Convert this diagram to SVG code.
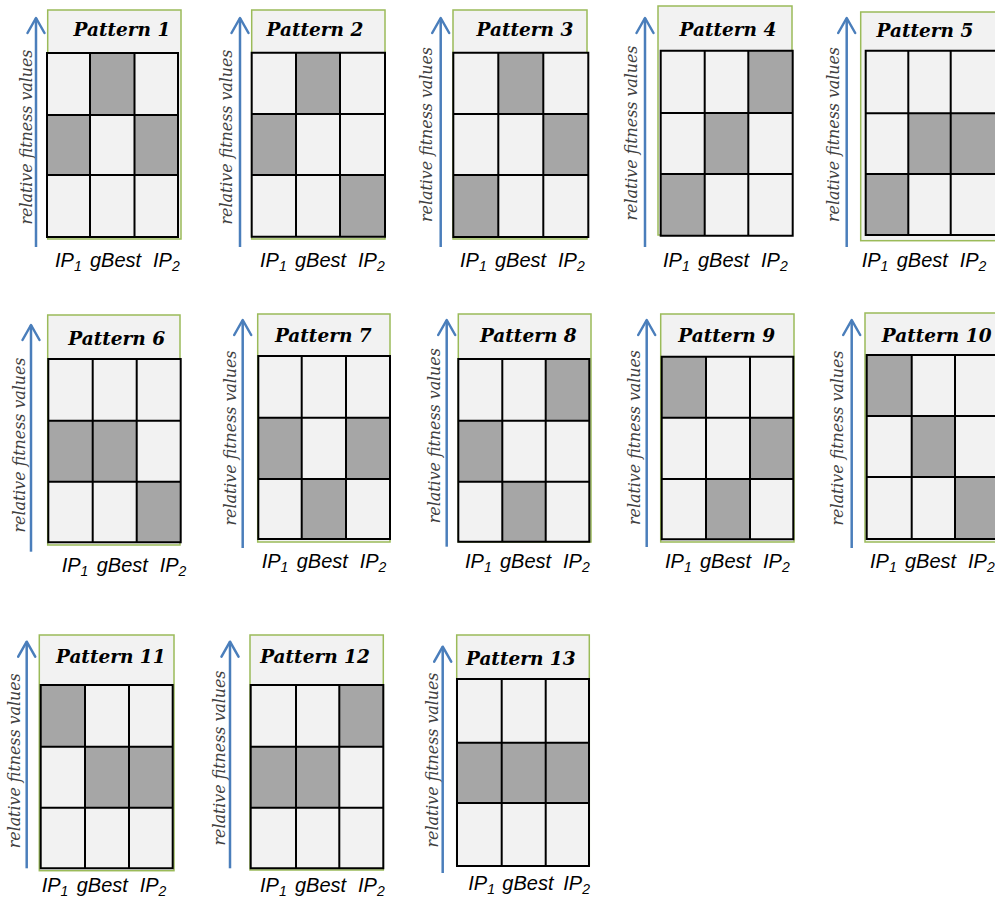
<svg xmlns="http://www.w3.org/2000/svg" width="995" height="900" viewBox="0 0 995 900">
<defs>
<style>
.bg{fill:#ffffff}
.frame{fill:#f2f2f2;stroke:#9bbb59;stroke-width:1.5}
.l{fill:#f2f2f2}
.d{fill:#a6a6a6}
.g{fill:none;stroke:#000;stroke-width:2}
.ax{stroke:#4a7ebb;stroke-width:2.5;fill:none;marker-end:url(#ah)}
.ttl{font-family:"DejaVu Serif",serif;font-weight:bold;font-style:italic;font-size:18.5px;text-anchor:middle;fill:#000}
.rot{font-family:"DejaVu Serif",serif;font-style:italic;font-size:16.5px;text-anchor:middle;fill:#404040}
.lab{font-family:"Liberation Sans",Arial,sans-serif;font-style:italic;font-size:20px;fill:#000}
.sub{font-size:14px}
</style>
<marker id="ah" markerUnits="userSpaceOnUse" viewBox="-18 -10 20 20" markerWidth="20" markerHeight="20" refX="0" refY="0" orient="auto">
<path d="M-15,-8.5 L0,0 L-15,8.5" fill="none" stroke="#4a7ebb" stroke-width="2.5" stroke-linecap="round" stroke-linejoin="round"/>
</marker>
</defs>
<rect class="bg" x="0" y="0" width="995" height="900"/>

<g id="pattern1">
<rect class="frame" x="47.7" y="10" width="133.3" height="229"/>
<rect class="l" x="47" y="53" width="131" height="184"/>
<rect class="d" x="90" y="53" width="44.5" height="62"/>
<rect class="d" x="47" y="115" width="43" height="60"/>
<rect class="d" x="134.5" y="115" width="43.5" height="60"/>
<path class="g" d="M47 53H178V237H47Z M90 53V237 M134.5 53V237 M47 115H178 M47 175H178"/>
<text class="ttl" x="122" y="36">Pattern 1</text>
<text class="rot" transform="translate(31.5,137) rotate(-90)" textLength="175" lengthAdjust="spacingAndGlyphs">relative fitness values</text>
<text class="lab" x="55" y="267">IP<tspan class="sub" dy="4">1</tspan><tspan x="90" dy="-4">gBest</tspan><tspan x="153">IP</tspan><tspan class="sub" dy="4">2</tspan></text>
</g>

<g id="pattern2">
<rect class="frame" x="251.7" y="10" width="133.3" height="229"/>
<rect class="l" x="251.7" y="52.7" width="133.3" height="184"/>
<rect class="d" x="296" y="52.7" width="44" height="61.3"/>
<rect class="d" x="251.7" y="114" width="44.3" height="61"/>
<rect class="d" x="340" y="175" width="45" height="61.7"/>
<path class="g" d="M251.7 52.7H385V236.7H251.7Z M296 52.7V236.7 M340 52.7V236.7 M251.7 114H385 M251.7 175H385"/>
<text class="ttl" x="315" y="36">Pattern 2</text>
<text class="rot" transform="translate(231.7,137) rotate(-90)" textLength="175" lengthAdjust="spacingAndGlyphs">relative fitness values</text>
<text class="lab" x="260" y="267">IP<tspan class="sub" dy="4">1</tspan><tspan x="295" dy="-4">gBest</tspan><tspan x="358">IP</tspan><tspan class="sub" dy="4">2</tspan></text>
</g>

<g id="pattern3">
<rect class="frame" x="453" y="10" width="134" height="229"/>
<rect class="l" x="453.3" y="52.7" width="135" height="184.3"/>
<rect class="d" x="498.3" y="52.7" width="45" height="61.3"/>
<rect class="d" x="543.3" y="114" width="45" height="61"/>
<rect class="d" x="453.3" y="175" width="45" height="62"/>
<path class="g" d="M453.3 52.7H588.3V237H453.3Z M498.3 52.7V237 M543.3 52.7V237 M453.3 114H588.3 M453.3 175H588.3"/>
<text class="ttl" x="525" y="36">Pattern 3</text>
<text class="rot" transform="translate(431.7,134.5) rotate(-90)" textLength="175" lengthAdjust="spacingAndGlyphs">relative fitness values</text>
<text class="lab" x="460" y="267">IP<tspan class="sub" dy="4">1</tspan><tspan x="495" dy="-4">gBest</tspan><tspan x="558">IP</tspan><tspan class="sub" dy="4">2</tspan></text>
</g>

<g id="pattern4">
<rect class="frame" x="658" y="6" width="134" height="229"/>
<rect class="l" x="660.7" y="50.7" width="132" height="185"/>
<rect class="d" x="748.3" y="50.7" width="44.4" height="62.3"/>
<rect class="d" x="704.7" y="113" width="43.6" height="61"/>
<rect class="d" x="660.7" y="174" width="44" height="61.7"/>
<path class="g" d="M660.7 50.7H792.7V235.7H660.7Z M704.7 50.7V235.7 M748.3 50.7V235.7 M660.7 113H792.7 M660.7 174H792.7"/>
<text class="ttl" x="728" y="36">Pattern 4</text>
<text class="rot" transform="translate(637,133) rotate(-90)" textLength="175" lengthAdjust="spacingAndGlyphs">relative fitness values</text>
<text class="lab" x="663" y="267">IP<tspan class="sub" dy="4">1</tspan><tspan x="698" dy="-4">gBest</tspan><tspan x="761">IP</tspan><tspan class="sub" dy="4">2</tspan></text>
</g>

<g id="pattern5">
<rect class="frame" x="860.7" y="12" width="140" height="228.7"/>
<rect class="l" x="865.7" y="50.7" width="130.3" height="184.3"/>
<rect class="d" x="908.3" y="113.3" width="42.4" height="60.7"/>
<rect class="d" x="950.7" y="113.3" width="45.3" height="60.7"/>
<rect class="d" x="865.7" y="174" width="42.6" height="61"/>
<path class="g" d="M865.7 50.7H996V235H865.7Z M908.3 50.7V235 M950.7 50.7V235 M865.7 113.3H996 M865.7 174H996"/>
<text class="ttl" x="925" y="37">Pattern 5</text>
<text class="rot" transform="translate(839,134.5) rotate(-90)" textLength="175" lengthAdjust="spacingAndGlyphs">relative fitness values</text>
<text class="lab" x="861.7" y="267">IP<tspan class="sub" dy="4">1</tspan><tspan x="896.7" dy="-4">gBest</tspan><tspan x="959.7">IP</tspan><tspan class="sub" dy="4">2</tspan></text>
</g>

<g id="pattern6">
<rect class="frame" x="47.7" y="315" width="132.3" height="230"/>
<rect class="l" x="48.3" y="359" width="132.4" height="183.3"/>
<rect class="d" x="48.3" y="420.7" width="44.4" height="61"/>
<rect class="d" x="92.7" y="420.7" width="44" height="61"/>
<rect class="d" x="136.7" y="481.7" width="44" height="60.6"/>
<path class="g" d="M48.3 359H180.7V542.3H48.3Z M92.7 359V542.3 M136.7 359V542.3 M48.3 420.7H180.7 M48.3 481.7H180.7"/>
<text class="ttl" x="116.7" y="345">Pattern 6</text>
<text class="rot" transform="translate(24.5,445) rotate(-90)" textLength="175" lengthAdjust="spacingAndGlyphs">relative fitness values</text>
<text class="lab" x="61.7" y="571.7">IP<tspan class="sub" dy="4">1</tspan><tspan x="96.7" dy="-4">gBest</tspan><tspan x="159.7">IP</tspan><tspan class="sub" dy="4">2</tspan></text>
</g>

<g id="pattern7">
<rect class="frame" x="257.7" y="314" width="132.3" height="228"/>
<rect class="l" x="258.3" y="356" width="131.7" height="183"/>
<rect class="d" x="258.3" y="417.7" width="43.4" height="61.3"/>
<rect class="d" x="346" y="417.7" width="44" height="61.3"/>
<rect class="d" x="301.7" y="479" width="44.3" height="60"/>
<path class="g" d="M258.3 356H390V539H258.3Z M301.7 356V539 M346 356V539 M258.3 417.7H390 M258.3 479H390"/>
<text class="ttl" x="323.3" y="341.7">Pattern 7</text>
<text class="rot" transform="translate(236,438) rotate(-90)" textLength="175" lengthAdjust="spacingAndGlyphs">relative fitness values</text>
<text class="lab" x="261.7" y="568">IP<tspan class="sub" dy="4">1</tspan><tspan x="296.7" dy="-4">gBest</tspan><tspan x="359.7">IP</tspan><tspan class="sub" dy="4">2</tspan></text>
</g>

<g id="pattern8">
<rect class="frame" x="458.3" y="314" width="132.7" height="228"/>
<rect class="l" x="458.3" y="359" width="131" height="182.7"/>
<rect class="d" x="545.7" y="359" width="43.6" height="61.7"/>
<rect class="d" x="458.3" y="420.7" width="44" height="61"/>
<rect class="d" x="502.3" y="481.7" width="43.4" height="60"/>
<path class="g" d="M458.3 359H589.3V541.7H458.3Z M502.3 359V541.7 M545.7 359V541.7 M458.3 420.7H589.3 M458.3 481.7H589.3"/>
<text class="ttl" x="528.3" y="341.7">Pattern 8</text>
<text class="rot" transform="translate(439.5,435.7) rotate(-90)" textLength="175" lengthAdjust="spacingAndGlyphs">relative fitness values</text>
<text class="lab" x="465" y="568">IP<tspan class="sub" dy="4">1</tspan><tspan x="500" dy="-4">gBest</tspan><tspan x="563">IP</tspan><tspan class="sub" dy="4">2</tspan></text>
</g>

<g id="pattern9">
<rect class="frame" x="660.7" y="314" width="133.3" height="228"/>
<rect class="l" x="661.7" y="356.7" width="131.6" height="182.6"/>
<rect class="d" x="661.7" y="356.7" width="44.3" height="61"/>
<rect class="d" x="750" y="417.7" width="43.3" height="61.3"/>
<rect class="d" x="706" y="479" width="44" height="60.3"/>
<path class="g" d="M661.7 356.7H793.3V539.3H661.7Z M706 356.7V539.3 M750 356.7V539.3 M661.7 417.7H793.3 M661.7 479H793.3"/>
<text class="ttl" x="726.7" y="341.7">Pattern 9</text>
<text class="rot" transform="translate(639.5,437.5) rotate(-90)" textLength="175" lengthAdjust="spacingAndGlyphs">relative fitness values</text>
<text class="lab" x="665" y="568">IP<tspan class="sub" dy="4">1</tspan><tspan x="700" dy="-4">gBest</tspan><tspan x="763">IP</tspan><tspan class="sub" dy="4">2</tspan></text>
</g>

<g id="pattern10">
<rect class="frame" x="865" y="313" width="140" height="229"/>
<rect class="l" x="866.7" y="355" width="131.3" height="184"/>
<rect class="d" x="866.7" y="355" width="45" height="61"/>
<rect class="d" x="911.7" y="416" width="43.3" height="61"/>
<rect class="d" x="955" y="477" width="43" height="62"/>
<path class="g" d="M866.7 355H998V539H866.7Z M911.7 355V539 M955 355V539 M866.7 416H998 M866.7 477H998"/>
<text class="ttl" x="936.7" y="341.7">Pattern 10</text>
<text class="rot" transform="translate(843,438) rotate(-90)" textLength="175" lengthAdjust="spacingAndGlyphs">relative fitness values</text>
<text class="lab" x="870" y="568">IP<tspan class="sub" dy="4">1</tspan><tspan x="905" dy="-4">gBest</tspan><tspan x="968">IP</tspan><tspan class="sub" dy="4">2</tspan></text>
</g>

<g id="pattern11">
<rect class="frame" x="39.3" y="635" width="134.7" height="235.7"/>
<rect class="l" x="40.7" y="685" width="132" height="183.3"/>
<rect class="d" x="40.7" y="685" width="44.3" height="61.7"/>
<rect class="d" x="85" y="746.7" width="44" height="61"/>
<rect class="d" x="129" y="746.7" width="43.7" height="61"/>
<path class="g" d="M40.7 685H172.7V868.3H40.7Z M85 685V868.3 M129 685V868.3 M40.7 746.7H172.7 M40.7 807.7H172.7"/>
<text class="ttl" x="110.8" y="663.3">Pattern 11</text>
<text class="rot" transform="translate(19.5,760.8) rotate(-90)" textLength="175" lengthAdjust="spacingAndGlyphs">relative fitness values</text>
<text class="lab" x="41.7" y="891.7">IP<tspan class="sub" dy="4">1</tspan><tspan x="76.7" dy="-4">gBest</tspan><tspan x="139.7">IP</tspan><tspan class="sub" dy="4">2</tspan></text>
</g>

<g id="pattern12">
<rect class="frame" x="250" y="635" width="133.3" height="235"/>
<rect class="l" x="250.7" y="685" width="132.6" height="183.3"/>
<rect class="d" x="339.3" y="685" width="44" height="61.7"/>
<rect class="d" x="250.7" y="746.7" width="45.3" height="61"/>
<rect class="d" x="296" y="746.7" width="43.3" height="61"/>
<path class="g" d="M250.7 685H383.3V868.3H250.7Z M296 685V868.3 M339.3 685V868.3 M250.7 746.7H383.3 M250.7 807.7H383.3"/>
<text class="ttl" x="315" y="663.3">Pattern 12</text>
<text class="rot" transform="translate(224.5,758) rotate(-90)" textLength="175" lengthAdjust="spacingAndGlyphs">relative fitness values</text>
<text class="lab" x="260" y="891.7">IP<tspan class="sub" dy="4">1</tspan><tspan x="295" dy="-4">gBest</tspan><tspan x="358">IP</tspan><tspan class="sub" dy="4">2</tspan></text>
</g>

<g id="pattern13">
<rect class="frame" x="456.7" y="635" width="132.6" height="230"/>
<rect class="l" x="457" y="679" width="132" height="187"/>
<rect class="d" x="457" y="742.7" width="132" height="60.3"/>
<path class="g" d="M457 679H589V866H457Z M501.7 679V866 M545.7 679V866 M457 742.7H589 M457 803H589"/>
<text class="ttl" x="520.8" y="665">Pattern 13</text>
<text class="rot" transform="translate(437.5,760) rotate(-90)" textLength="175" lengthAdjust="spacingAndGlyphs">relative fitness values</text>
<text class="lab" x="468.3" y="890">IP<tspan class="sub" dy="4">1</tspan><tspan x="502.3" dy="-4">gBest</tspan><tspan x="563.3">IP</tspan><tspan class="sub" dy="4">2</tspan></text>
</g>

<g id="connectors">
<line class="ax" x1="36" y1="247" x2="36" y2="18"/>
<line class="ax" x1="240" y1="247" x2="240" y2="18"/>
<line class="ax" x1="440.7" y1="247" x2="440.7" y2="18"/>
<line class="ax" x1="645" y1="247" x2="645" y2="18"/>
<line class="ax" x1="846.7" y1="247" x2="846.7" y2="18"/>
<line class="ax" x1="31" y1="551.7" x2="31" y2="325"/>
<line class="ax" x1="242.7" y1="548" x2="242.7" y2="320"/>
<line class="ax" x1="446.7" y1="546.7" x2="446.7" y2="320"/>
<line class="ax" x1="646.7" y1="547" x2="646.7" y2="320"/>
<line class="ax" x1="851.7" y1="548" x2="851.7" y2="320"/>
<line class="ax" x1="26.7" y1="868.3" x2="26.7" y2="641.7"/>
<line class="ax" x1="230" y1="868.3" x2="230" y2="641.7"/>
<line class="ax" x1="442.7" y1="873" x2="442.7" y2="646.7"/>
</g>
</svg>
